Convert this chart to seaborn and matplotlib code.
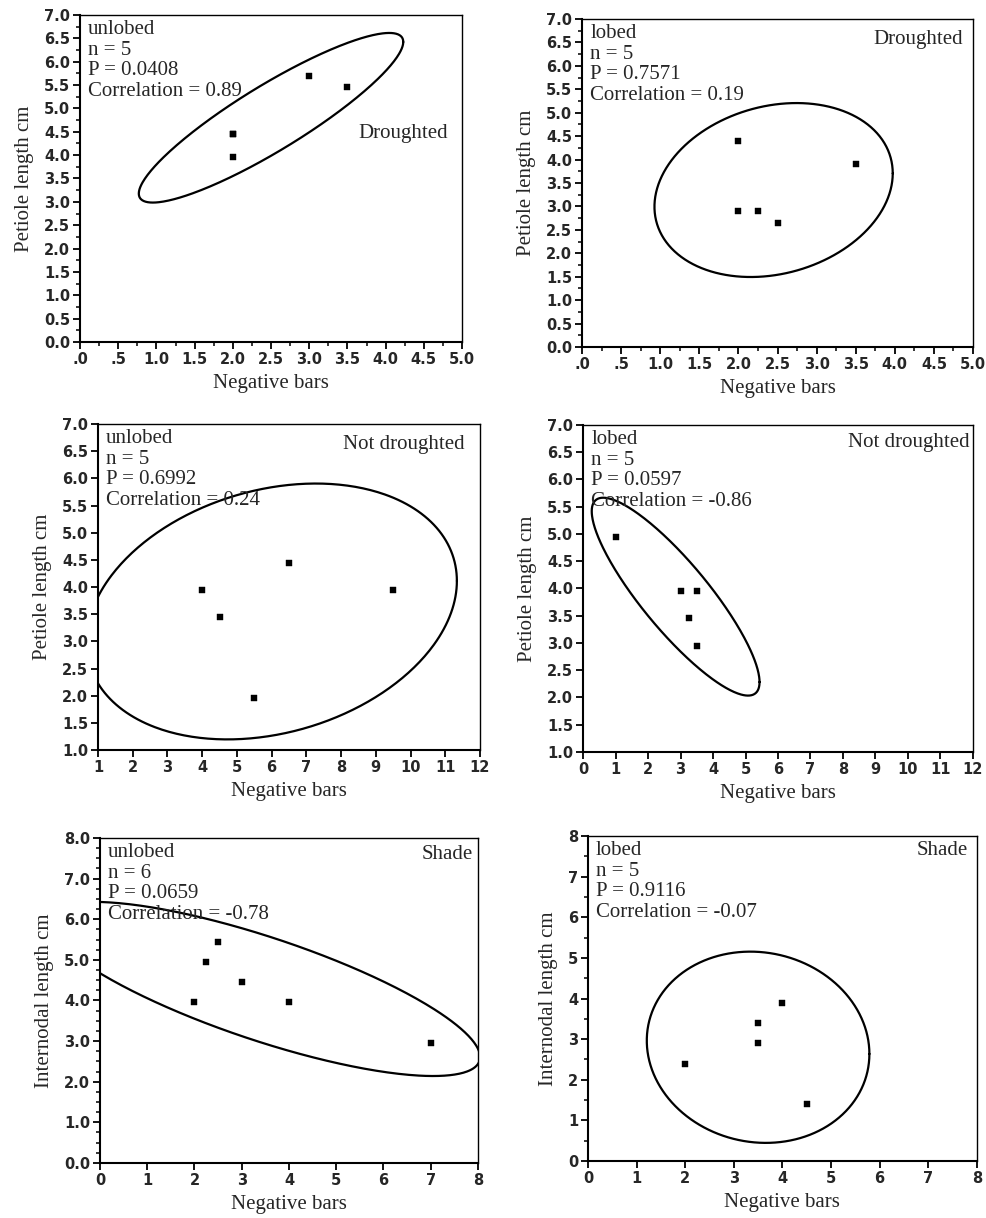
import numpy as np
import pandas as pd
import matplotlib
matplotlib.use("Agg")
import matplotlib.pyplot as plt
import seaborn as sns
from matplotlib.ticker import FixedLocator, MultipleLocator

# ---- data: negative bars vs. petiole / internodal length ----
p1_bars = [2.0, 2.0, 2.0, 3.0, 3.5]
p1_len = [4.45, 4.45, 3.95, 5.7, 5.45]

p2_bars = [2.0, 2.0, 2.25, 2.5, 3.5]
p2_len = [4.4, 2.9, 2.9, 2.65, 3.9]

p3_bars = [4.0, 4.5, 6.5, 5.5, 9.5]
p3_len = [3.95, 3.45, 4.45, 1.95, 3.95]

p4_bars = [1.0, 3.0, 3.5, 3.25, 3.5]
p4_len = [4.95, 3.95, 3.95, 3.45, 2.95]

p5_bars = [2.0, 2.25, 2.5, 3.0, 4.0, 7.0]
p5_len = [3.95, 4.95, 5.45, 4.45, 3.95, 2.95]

p6_bars = [2.0, 3.5, 3.5, 4.0, 4.5]
p6_len = [2.4, 3.4, 2.9, 3.9, 1.4]

leaf_form = ["unlobed", "lobed", "unlobed", "lobed", "unlobed", "lobed"]
treatment = ["Droughted", "Droughted", "Not droughted", "Not droughted", "Shade", "Shade"]
n_obs = [5, 5, 5, 5, 6, 5]
p_values = ["0.0408", "0.7571", "0.6992", "0.0597", "0.0659", "0.9116"]
correlations = ["0.89", "0.19", "0.24", "-0.86", "-0.78", "-0.07"]

y_titles = ["Petiole length cm"] * 4 + ["Internodal length cm"] * 2
x_title = "Negative bars"

half_ticks = [".0", ".5", "1.0", "1.5", "2.0", "2.5", "3.0", "3.5", "4.0", "4.5", "5.0"]

sns.set_theme(style="ticks")
plt.rcParams["font.family"] = ["Liberation Serif", "DejaVu Serif"]

fig = plt.figure(figsize=(9.87, 12.18), dpi=100)

panels = [
    dict(x=p1_bars, y=p1_len, pos=[0.0811, 0.7192, 0.3870, 0.2685],
         xlim=(0, 5), ylim=(0, 7), xmaj=0.5, xmin=0.25, ymaj=0.5, ymin=0.25,
         xlabels=half_ticks, yfmt="{:.1f}", tag=(0.963, 0.639)),
    dict(x=p2_bars, y=p2_len, pos=[0.5897, 0.7151, 0.3961, 0.2693],
         xlim=(0, 5), ylim=(0, 7), xmaj=0.5, xmin=0.25, ymaj=0.5, ymin=0.25,
         xlabels=half_ticks, yfmt="{:.1f}", tag=(0.974, 0.939)),
    dict(x=p3_bars, y=p3_len, pos=[0.0993, 0.3842, 0.3870, 0.2677],
         xlim=(1, 12), ylim=(1, 7), xmaj=1, xmin=None, ymaj=0.5, ymin=None,
         xlabels=None, yfmt="{:.1f}", tag=(0.961, 0.936)),
    dict(x=p4_bars, y=p4_len, pos=[0.5907, 0.3826, 0.3951, 0.2685],
         xlim=(0, 12), ylim=(1, 7), xmaj=1, xmin=None, ymaj=0.5, ymin=None,
         xlabels=None, yfmt="{:.1f}", tag=(0.992, 0.945)),
    dict(x=p5_bars, y=p5_len, pos=[0.1013, 0.0452, 0.3830, 0.2668],
         xlim=(0, 8), ylim=(0, 8), xmaj=1, xmin=None, ymaj=1, ymin=0.25,
         xlabels=None, yfmt="{:.1f}", tag=(0.987, 0.948)),
    dict(x=p6_bars, y=p6_len, pos=[0.5957, 0.0468, 0.3940, 0.2668],
         xlim=(0, 8), ylim=(0, 8), xmaj=1, xmin=None, ymaj=1, ymin=0.5,
         xlabels=None, yfmt="{:.0f}", tag=(0.977, 0.957)),
]


def density_ellipse(x, y, level=0.95, npts=400):
    """Bivariate normal density ellipse from sample mean, SDs and correlation."""
    x = np.asarray(x, float)
    y = np.asarray(y, float)
    mx, my = x.mean(), y.mean()
    sx, sy = x.std(ddof=1), y.std(ddof=1)
    r = np.corrcoef(x, y)[0, 1]
    k = np.sqrt(-2.0 * np.log(1.0 - level))
    t = np.linspace(0, 2 * np.pi, npts)
    return mx + k * sx * np.cos(t), my + k * sy * np.cos(t - np.arccos(r))


tick_font = dict(family="DejaVu Sans", weight="bold", size=10.5)

for i, pn in enumerate(panels):
    ax = fig.add_axes(pn["pos"])
    df = pd.DataFrame({"bars": pn["x"], "length": pn["y"]})

    ex, ey = density_ellipse(df["bars"], df["length"])
    ax.plot(ex, ey, color="black", lw=1.6)
    sns.scatterplot(data=df, x="bars", y="length", ax=ax, color="black",
                    marker="s", s=14, edgecolor="black", linewidth=0.3, zorder=3)

    ax.set_xlim(*pn["xlim"])
    ax.set_ylim(*pn["ylim"])

    xt = np.arange(pn["xlim"][0], pn["xlim"][1] + 1e-9, pn["xmaj"])
    yt = np.arange(pn["ylim"][0], pn["ylim"][1] + 1e-9, pn["ymaj"])
    ax.xaxis.set_major_locator(FixedLocator(xt))
    ax.yaxis.set_major_locator(FixedLocator(yt))
    if pn["xlabels"] is not None:
        ax.set_xticklabels(pn["xlabels"], fontdict=tick_font)
    else:
        ax.set_xticklabels([f"{v:.0f}" for v in xt], fontdict=tick_font)
    ax.set_yticklabels([pn["yfmt"].format(v) for v in yt], fontdict=tick_font)
    if pn["xmin"]:
        ax.xaxis.set_minor_locator(MultipleLocator(pn["xmin"]))
    if pn["ymin"]:
        ax.yaxis.set_minor_locator(MultipleLocator(pn["ymin"]))

    ax.tick_params(which="major", direction="out", length=5, width=1.3,
                   color="black", pad=2)
    ax.tick_params(which="minor", direction="out", length=3, width=1.1,
                   color="black")
    for side in ["left", "bottom"]:
        ax.spines[side].set_linewidth(1.5)
    for side in ["top", "right"]:
        ax.spines[side].set_linewidth(1.0)
    for sp in ax.spines.values():
        sp.set_color("black")
        sp.set_visible(True)

    ax.set_xlabel(x_title, fontsize=15, labelpad=5)
    ax.set_ylabel(y_titles[i], fontsize=15, labelpad=7)
    ax.grid(False)

    stats = (f"{leaf_form[i]}\nn = {n_obs[i]}\nP = {p_values[i]}\n"
             f"Correlation = {correlations[i]}")
    ax.text(0.021, 0.985, stats, transform=ax.transAxes, ha="left", va="top",
            fontsize=15, linespacing=1.12)
    ax.text(pn["tag"][0], pn["tag"][1], treatment[i], transform=ax.transAxes,
            ha="right", va="center", fontsize=15)

fig.savefig("out.png", dpi=100, facecolor="white")
